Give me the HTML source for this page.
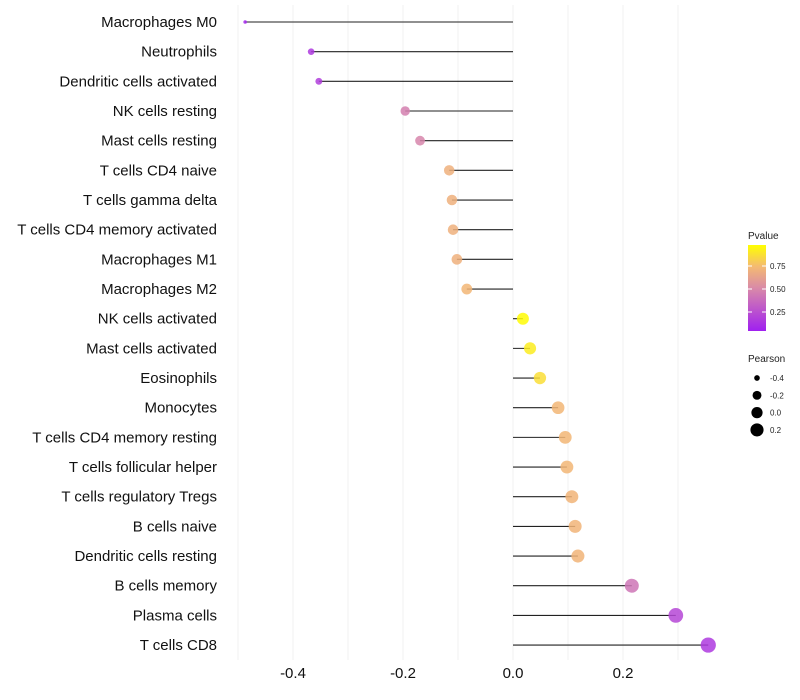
<!DOCTYPE html>
<html><head><meta charset="utf-8"><style>
body{margin:0;background:#fff;}
svg{display:block;font-family:"Liberation Sans",sans-serif;}
</style></head><body>
<svg id="chart" width="800" height="700" viewBox="0 0 800 700">
<defs>
<linearGradient id="pg" x1="0" y1="1" x2="0" y2="0">
<stop offset="0" stop-color="#A020F0"/><stop offset="0.5" stop-color="#D98AA8"/><stop offset="0.75" stop-color="#F4BA72"/><stop offset="1" stop-color="#FFFF00"/>
</linearGradient>
</defs>
<g id="grid"></g>
<g id="marks"></g>
<g id="ylab"></g>
<g id="xlab"></g>
<g>
<text x="748" y="239" font-size="10" fill="#222">Pvalue</text>
<rect x="748" y="245" width="18" height="86" fill="url(#pg)"/>
<g id="pticks"></g>
</g>
<g>
<text x="748" y="362" font-size="10" fill="#222">Pearson</text>
<g id="sleg"></g>
</g>
</svg>
<script>
const categories=["Macrophages M0","Neutrophils","Dendritic cells activated","NK cells resting","Mast cells resting","T cells CD4 naive","T cells gamma delta","T cells CD4 memory activated","Macrophages M1","Macrophages M2","NK cells activated","Mast cells activated","Eosinophils","Monocytes","T cells CD4 memory resting","T cells follicular helper","T cells regulatory  Tregs ","B cells naive","Dendritic cells resting","B cells memory","Plasma cells","T cells CD8"];
const pearson=[-0.487,-0.367,-0.353,-0.196,-0.169,-0.116,-0.111,-0.109,-0.102,-0.084,0.018,0.031,0.049,0.082,0.095,0.098,0.107,0.113,0.118,0.216,0.296,0.355];
const pvalue=[0.03,0.12,0.14,0.45,0.48,0.7,0.7,0.7,0.7,0.73,0.99,0.93,0.88,0.73,0.73,0.73,0.72,0.72,0.72,0.4,0.18,0.12];
const xTicks=[-0.4,-0.2,0.0,0.2];
const xTickLabels=["-0.4","-0.2","0.0","0.2"];
const pTicks=[0.25,0.5,0.75];
const sizeLegend=[-0.4,-0.2,0.0,0.2];
const NS="http://www.w3.org/2000/svg";
const X=v=>513+v*550;
const Y=i=>22+i*29.67;
const R=v=>Math.sqrt(3+(v+0.49)/0.845*55);
function mk(t,a,p){const e=document.createElementNS(NS,t);for(const k in a)e.setAttribute(k,a[k]);p.appendChild(e);return e;}
function lerp(a,b,t){return a.map((x,i)=>Math.round(x+(b[i]-x)*t));}
function col(p){const s=[[0,[160,32,240]],[0.5,[217,138,168]],[0.75,[244,186,114]],[1,[255,255,0]]];
for(let i=1;i<s.length;i++){if(p<=s[i][0]){const t=(p-s[i-1][0])/(s[i][0]-s[i-1][0]);const c=lerp(s[i-1][1],s[i][1],t);return `rgb(${c})`;}}return "rgb(255,255,0)";}
const g=document.getElementById('grid');
for(let v=-0.5;v<=0.31;v+=0.1){const l=mk('line',{x1:X(v),x2:X(v),y1:5,y2:660,stroke:'#f0f0f0','stroke-width':1},g);

}
const m=document.getElementById('marks'),yl=document.getElementById('ylab');
categories.forEach((c,i)=>{
const ln=mk('line',{x1:X(0),x2:X(pearson[i]),y1:Y(i),y2:Y(i),stroke:'#222','stroke-width':1.1},m);


const ci=mk('circle',{cx:X(pearson[i]),cy:Y(i),r:R(pearson[i]),fill:col(pvalue[i]),'fill-opacity':0.85},m);


const t=mk('text',{x:217,y:Y(i)+5,'text-anchor':'end','font-size':15,fill:'#111'},yl);t.textContent=c;


});
const xl=document.getElementById('xlab');
xTicks.forEach((v,i)=>{const t=mk('text',{x:X(v),y:678,'text-anchor':'middle','font-size':15,fill:'#111'},xl);t.textContent=xTickLabels[i];

});
const pt=document.getElementById('pticks');
pTicks.forEach(v=>{const y=335-v*92;mk('line',{x1:748,x2:752,y1:y,y2:y,stroke:'#fff'},pt);mk('line',{x1:762,x2:766,y1:y,y2:y,stroke:'#fff'},pt);
const t=mk('text',{x:770,y:y+3,'font-size':8,fill:'#222'},pt);t.textContent=v.toFixed(2);

});
const sl=document.getElementById('sleg');
sizeLegend.forEach((v,i)=>{const y=378+i*17.3;const c=mk('circle',{cx:757,cy:y,r:R(v)*0.95,fill:'#000'},sl);


const t=mk('text',{x:770,y:y+3,'font-size':8,fill:'#222'},sl);t.textContent=v.toFixed(1);

});
</script>
</body></html>
